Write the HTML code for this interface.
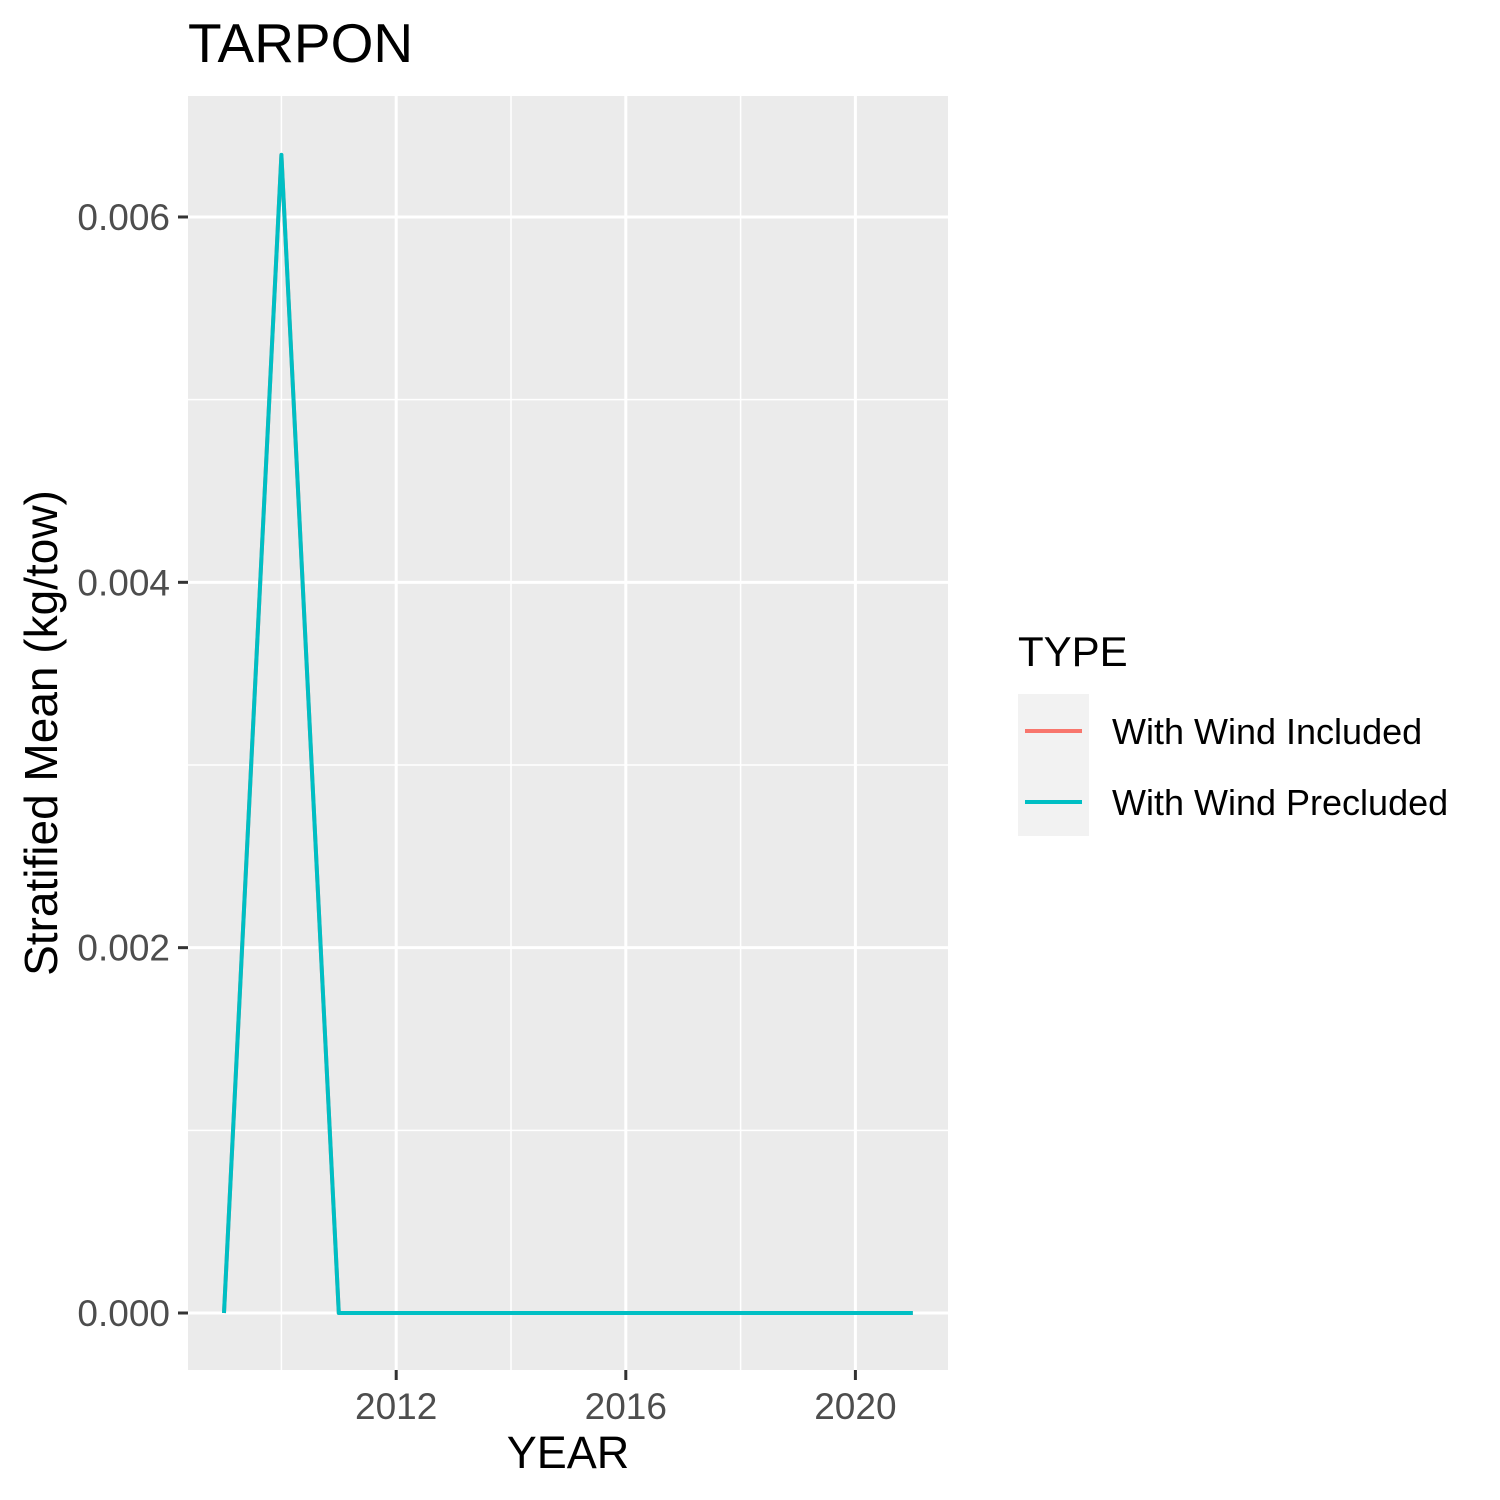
<!DOCTYPE html>
<html><head><meta charset="utf-8"><style>
html,body{margin:0;padding:0;background:#fff;}
svg{display:block;font-family:"Liberation Sans",Arial,sans-serif;}
</style></head><body>
<svg id="chart" width="1500" height="1500" viewBox="0 0 1500 1500">
<rect x="0" y="0" width="1500" height="1500" fill="#fff"/>
<text x="188" y="62" font-size="55" fill="#000">TARPON</text>
<rect x="188" y="96" width="760" height="1274" fill="#ebebeb"/>
<g id="grid"></g>
<g id="series"></g>
<g id="axes"></g>
<text x="568" y="1468" font-size="45" text-anchor="middle" fill="#000">YEAR</text>
<text transform="translate(57,733) rotate(-90)" font-size="46" text-anchor="middle" fill="#000">Stratified Mean (kg/tow)</text>
<g>
<text x="1018" y="666" font-size="42" fill="#000">TYPE</text>
<rect x="1018" y="694" width="71" height="142" fill="#f2f2f2"/>
<line x1="1025" y1="731" x2="1082" y2="731" stroke="#F8766D" stroke-width="4"/>
<text x="1112" y="744" font-size="36" fill="#000">With Wind Included</text>
<line x1="1025" y1="802" x2="1082" y2="802" stroke="#00BFC4" stroke-width="4"/>
<text x="1112" y="815" font-size="36" fill="#000">With Wind Precluded</text>
</g>
</svg>
<script>
const years=[2009,2010,2011,2012,2013,2014,2015,2016,2017,2018,2019,2020,2021];
const included=[0,0.00634,0,0,0,0,0,0,0,0,0,0,0];
const precluded=[0,0.00634,0,0,0,0,0,0,0,0,0,0,0];
const xTicks=[2012,2016,2020];
const xMinor=[2010,2014,2018];
const yTicks=[0,0.002,0.004,0.006];
const yTickLabels=["0.000","0.002","0.004","0.006"];
const yMinor=[0.001,0.003,0.005];
const NS="http://www.w3.org/2000/svg";
const X=v=>224+(v-2009)*57.4;
const Y=v=>1313-v*182670;
function mk(t,a,p){const e=document.createElementNS(NS,t);for(const k in a)e.setAttribute(k,a[k]);p.appendChild(e);return e;}
const grid=document.getElementById('grid'),axes=document.getElementById('axes'),ser=document.getElementById('series');
yMinor.forEach(v=>{const l=mk('line',{x1:188,x2:948,y1:Y(v),y2:Y(v),stroke:'#fff','stroke-width':1.5},grid);

});
xMinor.forEach(v=>{const l=mk('line',{x1:X(v),x2:X(v),y1:96,y2:1370,stroke:'#fff','stroke-width':1.5},grid);

});
yTicks.forEach((v,i)=>{const l=mk('line',{x1:188,x2:948,y1:Y(v),y2:Y(v),stroke:'#fff','stroke-width':3},grid);


const t=mk('line',{x1:178,x2:188,y1:Y(v),y2:Y(v),stroke:'#333','stroke-width':3},axes);


const tx=mk('text',{x:170,y:Y(v)+13,'font-size':37,'text-anchor':'end',fill:'#4d4d4d'},axes);tx.textContent=yTickLabels[i];

});
xTicks.forEach(v=>{const l=mk('line',{x1:X(v),x2:X(v),y1:96,y2:1370,stroke:'#fff','stroke-width':3},grid);


const t=mk('line',{x1:X(v),x2:X(v),y1:1370,y2:1380,stroke:'#333','stroke-width':3},axes);


const tx=mk('text',{x:X(v),y:1419,'font-size':37,'text-anchor':'middle',fill:'#4d4d4d'},axes);tx.textContent=v;

});
function line(vals,col,name){const p=mk('polyline',{points:years.map((y,i)=>X(y)+','+Y(vals[i])).join(' '),fill:'none',stroke:col,'stroke-width':4,'stroke-linejoin':'round'},ser);

}
line(included,'#F8766D','series-with-wind-included');
line(precluded,'#00BFC4','series-with-wind-precluded');
</script>
</body></html>
